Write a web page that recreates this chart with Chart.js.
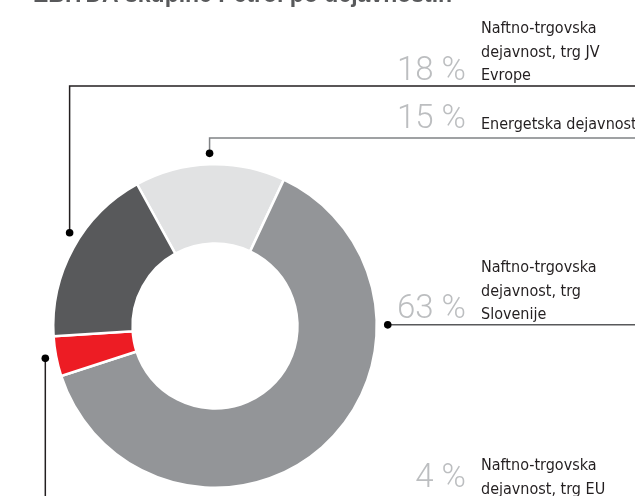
<!DOCTYPE html>
<html>
<head>
<meta charset="utf-8">
<script src="https://cdn.jsdelivr.net/npm/chart.js@4/dist/chart.umd.min.js"></script>
<style>
  html, body { margin: 0; padding: 0; background: #fff; }
  #wrap { position: relative; width: 635px; height: 496px; }
</style>
</head>
<body>
<div id="wrap"><canvas id="myChart" width="635" height="496"></canvas></div>
<script>
// data
const categories = [
  ['Energetska dejavnost'],
  ['Naftno-trgovska', 'dejavnost, trg', 'Slovenije'],
  ['Naftno-trgovska', 'dejavnost, trg EU'],
  ['Naftno-trgovska', 'dejavnost, trg JV', 'Evrope'],
];
const shares = [15, 63, 4, 18];
const sliceColors = ['#e1e2e3', '#939598', '#ed1c24', '#58595b'];
const chartTitle = 'EBITDA skupine Petrol po dejavnostih';

// callout styling: where the dot sits inside each slice, how the leader runs, where the text goes
const callouts = [
  { frac: 0.5, kind: 'upRight', elbowY: 138, color: '#808285', pctY: 128, textY: 129 },
  { frac: 0.284, kind: 'right', color: '#58595b', pctY: 318, textY: 272 },
  { frac: 0.5, kind: 'down', color: '#231f20', pctY: 487, textY: 470 },
  { frac: 0.56, kind: 'upRight', elbowY: 86, color: '#231f20', pctY: 80, textY: 33 },
];

const labelFont = '16px "Liberation Sans Narrow", "DejaVu Sans Condensed", sans-serif';
const pctFont = '300 33px Roboto, "Liberation Sans", sans-serif';

const calloutPlugin = {
  id: 'callouts',
  afterDraw(chart) {
    const ctx = chart.ctx;
    const meta = chart.getDatasetMeta(0);
    const W = chart.width, H = chart.height;

    ctx.save();
    // title, cut by the top edge as in the original
    ctx.font = 'bold 23px "Liberation Sans", sans-serif';
    ctx.fillStyle = '#58595b';
    ctx.textAlign = 'left';
    ctx.textBaseline = 'alphabetic';
    ctx.fillText(chartTitle, 33, 2);

    meta.data.forEach((arc, i) => {
      const c = callouts[i];
      const p = arc.getProps(['x', 'y', 'startAngle', 'endAngle', 'outerRadius']);
      const a = p.startAngle + (p.endAngle - p.startAngle) * c.frac;
      const r = p.outerRadius + 11;
      const dx = p.x + Math.cos(a) * r;
      const dy = p.y + Math.sin(a) * r;

      ctx.strokeStyle = c.color;
      ctx.lineWidth = 1.5;
      ctx.beginPath();
      ctx.moveTo(dx, dy);
      if (c.kind === 'upRight') {
        ctx.lineTo(dx, c.elbowY);
        ctx.lineTo(W, c.elbowY);
      } else if (c.kind === 'right') {
        ctx.lineTo(W, dy);
      } else {
        ctx.lineTo(dx, H);
      }
      ctx.stroke();

      ctx.fillStyle = '#000';
      ctx.beginPath();
      ctx.arc(dx, dy, 3.8, 0, Math.PI * 2);
      ctx.fill();

      // percent
      ctx.font = pctFont;
      ctx.fillStyle = '#bcbec0';
      ctx.textAlign = 'right';
      ctx.fillText(shares[i] + ' %', 466, c.pctY);

      // category text
      ctx.font = labelFont;
      ctx.fillStyle = '#231f20';
      ctx.textAlign = 'left';
      categories[i].forEach((line, k) => {
        ctx.fillText(line, 481, c.textY + k * 23.5);
      });
    });
    ctx.restore();
  }
};

const ctx = document.getElementById('myChart');

new Chart(ctx, {
  type: 'doughnut',
  data: {
    labels: categories.map((c) => c.join(' ')),
    datasets: [
      {
        data: shares,
        backgroundColor: sliceColors,
        borderColor: '#ffffff',
        borderWidth: 2.5,
      },
    ],
  },
  options: {
    responsive: false,
    animation: false,
    rotation: -28.8,
    cutout: '51%',
    layout: {
      padding: { left: 52, right: 257, top: 162, bottom: 6 },
    },
    plugins: {
      legend: { display: false },
      tooltip: { enabled: false },
    },
  },
  plugins: [calloutPlugin],
});
</script>
</body>
</html>
